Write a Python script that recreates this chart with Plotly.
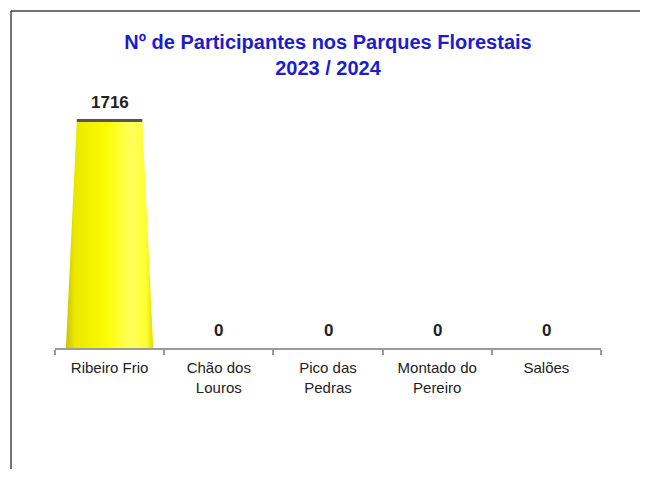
import plotly.graph_objects as go

# dados
parques = ["Ribeiro Frio", "Chão dos<br>Louros", "Pico das<br>Pedras", "Montado do<br>Pereiro", "Salões"]
participantes = [1716, 0, 0, 0, 0]

titulo = "Nº de Participantes nos Parques Florestais<br>2023 / 2024"

posicoes = list(range(len(parques)))

# a página html tem 8px de margem no body -> figura desenhada com esse desvio
W, H = 632, 461
ML, MR, MT, MB = 47, 39, 88, 121
PW, PH = W - ML - MR, H - MT - MB

fig = go.Figure()

# cones (tronco) desenhados a partir do valor de cada parque
for i, v in zip(posicoes, participantes):
    if v <= 0:
        continue
    fig.add_trace(go.Scatter(
        x=[i - 0.40, i - 0.30, i + 0.30, i + 0.40, i - 0.40],
        y=[0, v, v, 0, 0],
        mode="lines",
        fill="toself",
        line=dict(width=0),
        fillgradient=dict(
            type="horizontal",
            colorscale=[[0, "#c8c400"], [0.1, "#eae700"], [0.45, "#fcfc00"],
                        [0.75, "#ffff5e"], [0.92, "#ffff30"], [1, "#e2de00"]],
        ),
        hoverinfo="skip",
        showlegend=False,
    ))
    # topo do cone
    fig.add_trace(go.Scatter(
        x=[i - 0.30, i + 0.30],
        y=[v, v],
        mode="lines",
        line=dict(color="#555555", width=3),
        hoverinfo="skip",
        showlegend=False,
    ))

# etiquetas de valores
for i, v in zip(posicoes, participantes):
    fig.add_annotation(
        x=i, y=v,
        text="<b>%d</b>" % v,
        showarrow=False,
        yanchor="bottom",
        yshift=6,
        font=dict(family="Liberation Sans, Arial", size=17, color="#222222"),
    )

# moldura do gráfico (só esquerda e topo ficam visíveis), dentro da figura
moldura = dict(color="#444444", width=1.5)
fig.add_shape(type="line", xref="paper", yref="paper",
              x0=(3 - ML) / PW, x1=(W - ML) / PW,
              y0=1 + (MT - 3) / PH, y1=1 + (MT - 3) / PH, line=moldura)
fig.add_shape(type="line", xref="paper", yref="paper",
              x0=(3 - ML) / PW, x1=(3 - ML) / PW,
              y0=1 + (MT - 3) / PH, y1=-MB / PH, line=moldura)

fig.update_layout(
    width=W,
    height=H,
    margin=dict(l=ML, r=MR, t=MT, b=MB),
    plot_bgcolor="white",
    paper_bgcolor="white",
    title=dict(
        text="<b>" + titulo + "</b>",
        x=0.5,
        xref="paper",
        xanchor="center",
        y=1 - 41 / H,
        yref="container",
        yanchor="top",
        font=dict(family="Liberation Sans, Arial", size=20, color="#1c1cd0"),
    ),
    xaxis=dict(
        range=[-0.5, 4.5],
        tickmode="array",
        tickvals=posicoes,
        ticktext=parques,
        ticks="",
        showgrid=False,
        zeroline=False,
        showline=True,
        linecolor="#9a9a9a",
        linewidth=2,
        ticklabelstandoff=5,
        tickfont=dict(family="Liberation Sans, Arial", size=15, color="#222222"),
        minor=dict(
            tickmode="array",
            tickvals=[p - 0.5 for p in posicoes] + [posicoes[-1] + 0.5],
            ticks="outside",
            ticklen=5,
            tickwidth=1.5,
            tickcolor="#9a9a9a",
            showgrid=False,
        ),
        fixedrange=True,
    ),
    yaxis=dict(
        range=[0, 1900],
        visible=False,
        fixedrange=True,
    ),
)

fig.write_html("out.html")
